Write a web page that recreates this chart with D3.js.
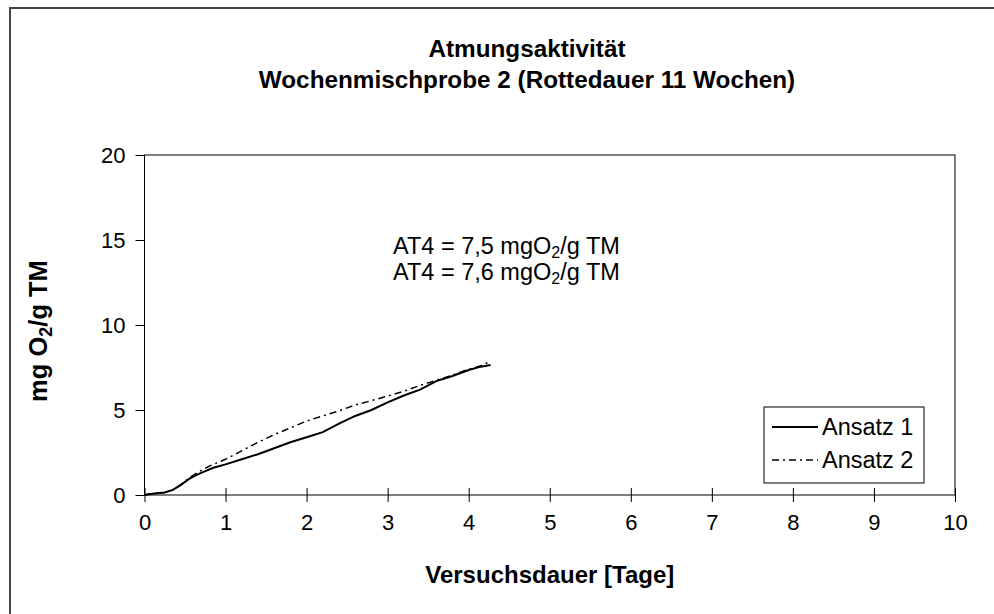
<!DOCTYPE html>
<html>
<head>
<meta charset="utf-8">
<script src="https://cdn.jsdelivr.net/npm/d3@7"></script>
<style>
  body { margin: 0; background: #fff; }
  svg { font-family: Arial, "Liberation Sans", sans-serif; }
</style>
</head>
<body>
<svg id="chart" width="994" height="614"></svg>
<script>
// data
var titleLines = ["Atmungsaktivität", "Wochenmischprobe 2 (Rottedauer 11 Wochen)"];
var xTicks = [0, 1, 2, 3, 4, 5, 6, 7, 8, 9, 10];
var yTicks = [0, 5, 10, 15, 20];

var days1 = [0, 0.05, 0.15, 0.25, 0.35, 0.45, 0.55, 0.65, 0.75, 0.85, 1.0, 1.2, 1.4, 1.6, 1.8, 2.0, 2.2, 2.4, 2.6, 2.8, 3.0, 3.2, 3.4, 3.6, 3.8, 4.0, 4.15, 4.27];
var vals1 = [0, 0.05, 0.1, 0.15, 0.3, 0.6, 0.95, 1.2, 1.4, 1.6, 1.8, 2.1, 2.4, 2.75, 3.1, 3.4, 3.7, 4.2, 4.65, 5.0, 5.45, 5.85, 6.2, 6.7, 7.0, 7.35, 7.55, 7.65];

var days2 = [0, 0.05, 0.15, 0.25, 0.35, 0.45, 0.55, 0.65, 0.8, 1.0, 1.2, 1.4, 1.6, 1.8, 2.0, 2.2, 2.4, 2.6, 2.8, 3.0, 3.2, 3.4, 3.6, 3.8, 4.0, 4.15, 4.24];
var vals2 = [0, 0.05, 0.1, 0.15, 0.3, 0.62, 1.0, 1.32, 1.7, 2.1, 2.6, 3.1, 3.55, 3.95, 4.35, 4.65, 4.95, 5.3, 5.55, 5.82, 6.1, 6.45, 6.75, 7.05, 7.4, 7.6, 7.8];

var seriesNames = ["Ansatz 1", "Ansatz 2"];
var notes = ["AT4 = 7,5 mgO", "AT4 = 7,6 mgO"];

var dimensions = {
    left: 144.5,
    right: 955,
    top: 155,
    bottom: 495
}

var svg = d3.select("#chart")

// outer frame of the chart
svg.append("rect")
    .attr("x", 10).attr("y", 8)
    .attr("width", 1000).attr("height", 700)
    .attr("fill", "none")
    .attr("stroke", "#444")
    .attr("stroke-width", 2)

var xScale = d3.scaleLinear()
    .domain([0, 10])
    .range([dimensions.left, dimensions.right])

var yScale = d3.scaleLinear()
    .domain([0, 20])
    .range([dimensions.bottom, dimensions.top])

// plot area box
svg.append("rect")
    .attr("x", dimensions.left).attr("y", dimensions.top)
    .attr("width", dimensions.right - dimensions.left)
    .attr("height", dimensions.bottom - dimensions.top)
    .attr("fill", "none")
    .attr("stroke", "#000")
    .attr("stroke-width", 1)

// title
svg.append("g")
    .selectAll("text")
    .data(titleLines)
    .enter()
    .append("text")
    .attr("x", 527)
    .attr("y", function(d, i) { return 57 + i * 31; })
    .attr("text-anchor", "middle")
    .attr("font-size", 24.3)
    .attr("font-weight", "bold")
    .text(function(d) { return d; })

// axes
var xAxis = d3.axisBottom(xScale).tickValues(xTicks).tickSizeInner(7).tickSizeOuter(0).tickPadding(12);
var yAxis = d3.axisLeft(yScale).tickValues(yTicks).tickSizeInner(9).tickSizeOuter(0).tickPadding(10);

var gx = svg.append("g")
    .attr("transform", "translate(0," + dimensions.bottom + ")")
    .call(xAxis)
gx.select(".domain").remove()
gx.selectAll(".tick line").attr("y1", -7).attr("stroke", "#000")
gx.selectAll(".tick text").attr("font-size", 22).attr("font-family", "Arial, 'Liberation Sans', sans-serif").attr("fill", "#000")

var gy = svg.append("g")
    .attr("transform", "translate(" + dimensions.left + ",0)")
    .call(yAxis)
gy.select(".domain").remove()
gy.selectAll(".tick line").attr("stroke", "#000")
gy.selectAll(".tick text").attr("font-size", 22).attr("font-family", "Arial, 'Liberation Sans', sans-serif").attr("fill", "#000")

// axis titles
svg.append("text")
    .attr("x", (dimensions.left + dimensions.right) / 2)
    .attr("y", 583)
    .attr("text-anchor", "middle")
    .attr("font-size", 24)
    .attr("font-weight", "bold")
    .text("Versuchsdauer [Tage]")

var yTitle = svg.append("text")
    .attr("transform", "translate(47," + ((dimensions.top + dimensions.bottom) / 2 + 6) + ") rotate(-90)")
    .attr("text-anchor", "middle")
    .attr("font-size", 25.5)
    .attr("font-weight", "bold")
yTitle.append("tspan").text("mg O")
yTitle.append("tspan").attr("font-size", 18).attr("dy", 5).text("2")
yTitle.append("tspan").attr("dy", -5).text("/g TM")

// lines
var line = d3.line()
    .x(function(d) { return xScale(d[0]); })
    .y(function(d) { return yScale(d[1]); })

var data1 = d3.zip(days1, vals1);
var data2 = d3.zip(days2, vals2);

svg.append("path")
    .datum(data2)
    .attr("d", line)
    .attr("fill", "none")
    .attr("stroke", "#000")
    .attr("stroke-width", 1.5)
    .attr("stroke-dasharray", "7,4,2,4")

svg.append("path")
    .datum(data1)
    .attr("d", line)
    .attr("fill", "none")
    .attr("stroke", "#000")
    .attr("stroke-width", 2)

// annotations
var noteG = svg.append("g")
notes.forEach(function(n, i) {
    var t = noteG.append("text")
        .attr("x", 393)
        .attr("y", 254 + i * 26)
        .attr("font-size", 23.5)
    t.append("tspan").text(n)
    t.append("tspan").attr("font-size", 16).attr("dy", 4).text("2")
    t.append("tspan").attr("dy", -4).text("/g TM")
})

// legend
var legend = svg.append("g")
legend.append("rect")
    .attr("x", 764).attr("y", 407)
    .attr("width", 160).attr("height", 76)
    .attr("fill", "#fff")
    .attr("stroke", "#000")
    .attr("stroke-width", 1)

var rows = legend.selectAll("g.row")
    .data(seriesNames)
    .enter()
    .append("g")
    .attr("class", "row")
    .attr("transform", function(d, i) { return "translate(0," + (427 + i * 33) + ")"; })

rows.append("line")
    .attr("x1", 772).attr("x2", 818)
    .attr("stroke", "#000")
    .attr("stroke-width", function(d, i) { return i == 0 ? 2 : 1.5; })
    .attr("stroke-dasharray", function(d, i) { return i == 0 ? null : "7,4,2,4"; })

rows.append("text")
    .attr("x", 822)
    .attr("dy", "0.35em")
    .attr("font-size", 23.5)
    .text(function(d) { return d; })
</script>
</body>
</html>
